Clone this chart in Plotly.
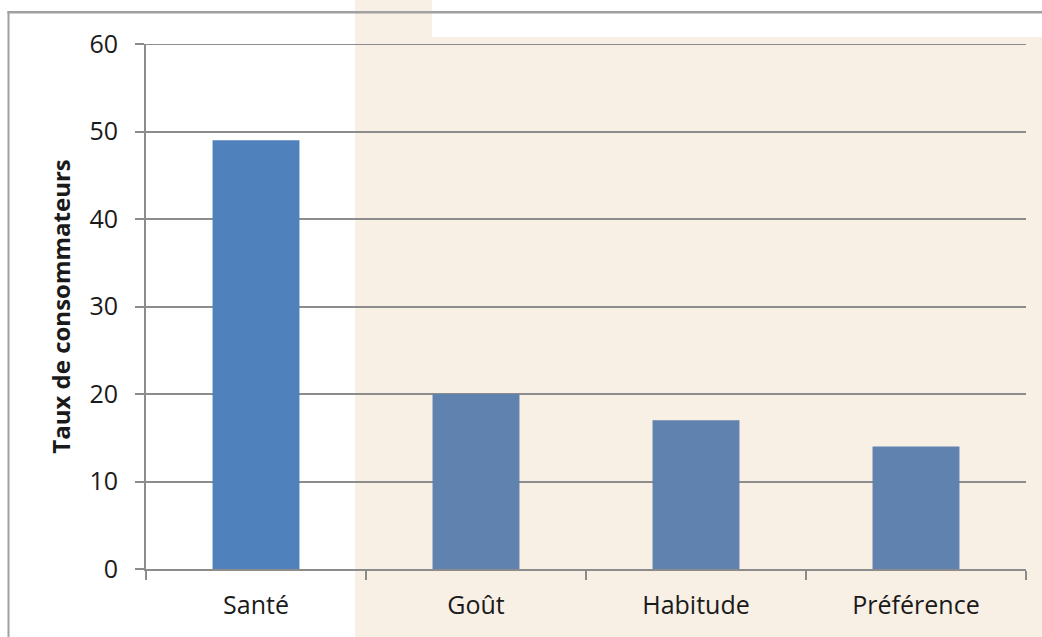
import plotly.graph_objects as go

categories = ["Santé", "Goût", "Habitude", "Préférence"]
values = [49, 20, 17, 14]
y_ticks = [0, 10, 20, 30, 40, 50, 60]

bar_colors = ["#4f81bd", "#5f82ae", "#5f82ae", "#5f82ae"]

W, H = 1042, 637
L, R, T, B = 146, 16, 44, 68
pw, ph = W - L - R, H - T - B

def px_x(p):
    return (p - L) / pw

def px_y(p):
    return (H - B - p) / ph

fig = go.Figure()
fig.add_trace(go.Bar(x=categories, y=values, marker=dict(color=bar_colors, line=dict(width=0)),
                     hoverinfo="skip"))

shapes = [
    # beige background panel
    dict(type="rect", xref="paper", yref="paper", x0=px_x(355), x1=px_x(W + 5), y0=px_y(H + 5), y1=px_y(-5),
         fillcolor="#f8efe5", line=dict(width=0), layer="below"),
    # white strip at the top
    dict(type="rect", xref="paper", yref="paper", x0=px_x(432), x1=px_x(W + 5), y0=px_y(37), y1=px_y(-5),
         fillcolor="#ffffff", line=dict(width=0), layer="below"),
    # outer frame: top edge
    dict(type="rect", xref="paper", yref="paper", x0=px_x(7.5), x1=px_x(W + 5), y0=px_y(13.5), y1=px_y(11),
         fillcolor="#a0a0a0", line=dict(width=0), layer="above"),
    # outer frame: left edge
    dict(type="rect", xref="paper", yref="paper", x0=px_x(7.5), x1=px_x(9.5), y0=px_y(H + 5), y1=px_y(11),
         fillcolor="#a0a0a0", line=dict(width=0), layer="above"),
    # top gridline (at the upper end of the range)
    dict(type="line", xref="paper", yref="y", x0=0, x1=1, y0=y_ticks[-1], y1=y_ticks[-1],
         line=dict(color="#8c8c8c", width=2), layer="above"),
]

fig.update_layout(
    width=W, height=H, autosize=False,
    margin=dict(l=L, r=R, t=T, b=B, pad=0),
    paper_bgcolor="#ffffff", plot_bgcolor="rgba(0,0,0,0)",
    bargap=0.605,
    showlegend=False,
    shapes=shapes,
    font=dict(family="'Open Sans', sans-serif", color="#1a1a1a"),
)
fig.update_xaxes(
    type="category", showgrid=False, zeroline=False,
    showline=True, linecolor="#8c8c8c", linewidth=2,
    ticks="outside", tickson="boundaries", ticklen=9, tickwidth=1.5, tickcolor="#8c8c8c",
    tickfont=dict(size=25, color="#1a1a1a"), ticklabelstandoff=13,
)
fig.update_yaxes(
    range=[0, 60], tickvals=y_ticks, ticktext=[str(v) for v in y_ticks],
    showgrid=True, gridcolor="#8c8c8c", gridwidth=2, zeroline=False,
    showline=True, linecolor="#8c8c8c", linewidth=2,
    ticks="outside", ticklen=9, tickwidth=2, tickcolor="#8c8c8c",
    tickfont=dict(size=25, color="#1a1a1a"), ticklabelstandoff=12,
    title=dict(text="<b>Taux de consommateurs</b>", font=dict(size=24, color="#1a1a1a"), standoff=12),
)

fig.write_html("out.html", config={"displayModeBar": False})
